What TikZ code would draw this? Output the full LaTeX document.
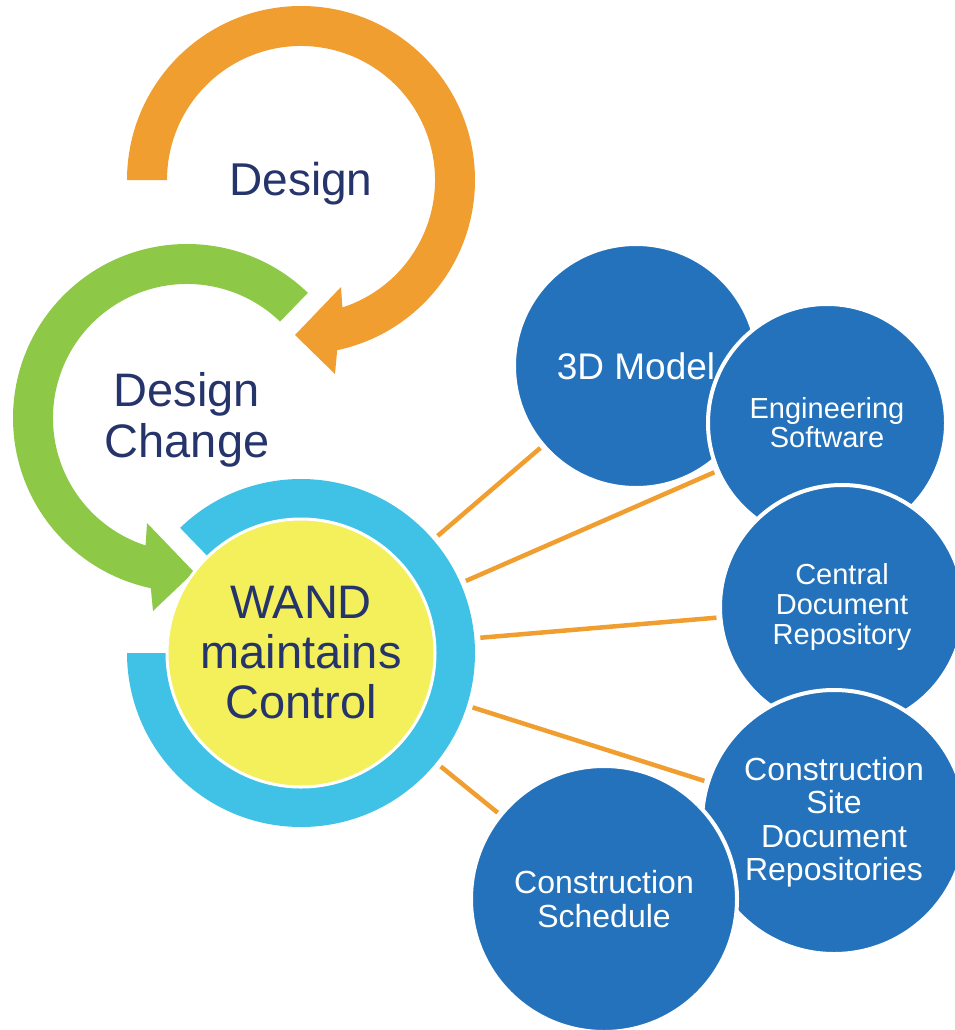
\documentclass[tikz,border=0pt]{standalone}
\usepackage{fontspec}
\setmainfont{Liberation Sans}
\definecolor{arcorange}{RGB}{240,158,48}
\definecolor{arcgreen}{RGB}{141,201,71}
\definecolor{ringcyan}{RGB}{64,194,230}
\definecolor{wandyellow}{RGB}{243,240,92}
\definecolor{toolblue}{RGB}{35,114,187}
\definecolor{labelnavy}{RGB}{38,52,108}

\begin{document}
\begin{tikzpicture}[x=1pt, y=1pt,
    toolnode/.style = {circle, fill=toolblue, draw=white, line width=4pt, minimum size=#1, inner sep=0pt, text=white, align=center},
    arclabel/.style = {text=labelnavy, align=center},
    link/.style = {draw=arcorange, line width=4.5pt, shorten >=2pt, shorten <=1pt}]
     \useasboundingbox (0,0) rectangle (955,-1030);
     \coordinate (oc) at (301,-180);
     \coordinate (gc) at (187,-418);
     \coordinate (cc) at (301,-653);

     \fill[arcorange] ([shift={(180:174)}]oc) arc[start angle=180, end angle=-78, radius=174]
          -- (335,-374) -- (295,-335) -- (341,-287)
          -- ([shift={(-72:134)}]oc) arc[start angle=-72, end angle=180, radius=134] -- cycle;
     \fill[arcgreen] ([shift={(46:174)}]gc) arc[start angle=46, end angle=258, radius=174]
          -- (153,-611) -- (194,-572) -- (147,-523)
          -- ([shift={(252:134)}]gc) arc[start angle=252, end angle=46, radius=134] -- cycle;
     \fill[ringcyan] ([shift={(134:174)}]cc) arc[start angle=134, end angle=-180, radius=174]
          -- ([shift={(180:134)}]cc) arc[start angle=-180, end angle=134, radius=134] -- cycle;

     \node[arclabel, anchor=base, font=\fontsize{46}{51}\selectfont] (design) at (301,-195) {Design};
     \node[arclabel, font=\fontsize{47}{51}\selectfont] (change) at (187,-420) {Design\\Change};
     \node[circle, minimum size=358pt, inner sep=0pt, outer sep=0pt] (ring) at (cc) {};
     \node[arclabel, circle, fill=wandyellow, draw=white, line width=3pt, minimum size=268pt, inner sep=0pt,
          font=\fontsize{47}{50}\selectfont] (wand) at (cc) {WAND\\maintains\\Control};

     \node[toolnode=244pt, font=\fontsize{37}{38}\selectfont] (model) at (636,-366) {3D Model};
     \node[toolnode=238pt, font=\fontsize{29}{29}\selectfont] (software) at (827,-423) {Engineering\\Software};
     \node[toolnode=244pt, font=\fontsize{29}{30}\selectfont] (central) at (842,-607) {Central\\Document\\Repository};
     \node[toolnode=264pt, font=\fontsize{32}{33.5}\selectfont] (site) at (834,-822) {Construction\\Site\\Document\\Repositories};
     \node[toolnode=266pt, font=\fontsize{32}{34}\selectfont] (schedule) at (604,-899) {Construction\\Schedule};

     \draw[link] (ring) -- (model);
     \draw[link] (ring) -- (software);
     \draw[link] (ring) -- (central);
     \draw[link] (ring) -- (site);
     \draw[link] (ring) -- (schedule);
\end{tikzpicture}
\end{document}
